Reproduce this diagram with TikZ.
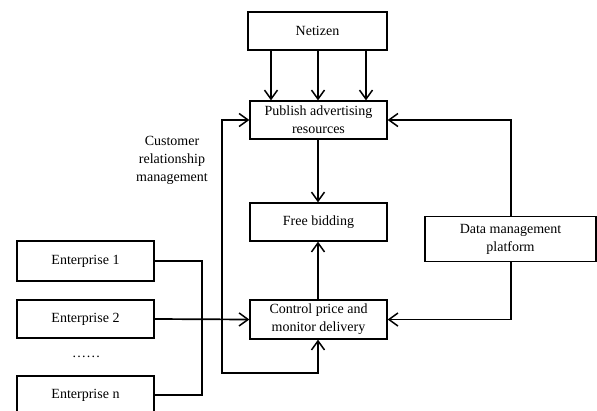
\documentclass[tikz,border=0pt]{standalone}
\usepackage{fontspec}
\setmainfont{Liberation Serif}
\usetikzlibrary{arrows.meta}
\begin{document}
\begin{tikzpicture}[x=1pt,y=-1pt,
  box/.style={draw,line width=1.3pt,minimum width=137pt,minimum height=38pt,inner sep=0pt,align=center,font=\fontsize{14}{18}\selectfont},
  conn/.style={line width=1.7pt,-{Straight Barb[length=9pt,width=13pt,line width=1.5pt]}},
  plain/.style={line width=1.7pt}]
\useasboundingbox (0,0) rectangle (597,410);
\node[box,minimum width=139pt] (net) at (317.5,31) {Netizen};
\node[box] (pub) at (318.5,120) {Publish advertising\\resources};
\node[box] (free) at (318.5,222) {Free bidding};
\node[box,minimum height=39pt] (ctrl) at (318.5,319.5) {Control price and\\monitor delivery};
\node[box,minimum width=171pt,minimum height=45pt] (data) at (510.5,239) {Data management\\platform};
\node[box,minimum height=40pt] (e1) at (85.5,261) {Enterprise 1};
\node[box] (e2) at (85.5,319) {Enterprise 2};
\node[box] (en) at (85.5,395) {Enterprise n};
\node[font=\fontsize{14}{18}\selectfont,inner sep=0pt,anchor=base] (dots) at (86,357) {\kern0.5pt.\kern1.3pt.\kern1.3pt.\kern1.3pt.\kern1.3pt.\kern1.3pt.};
\node[align=center,font=\fontsize{14}{18}\selectfont] (crm) at (172,160) {Customer\\relationship\\management};
\coordinate (m1) at (202,261);
\coordinate (mn) at (202,395);
\coordinate (lb) at (318,373);
\coordinate (lbl) at (222,373);
\coordinate (ltl) at (222,120);
\draw[conn] (net.south -| 271,0) -- (pub.north -| 271,0);
\draw[conn] (net.south -| 318,0) -- (pub.north -| 318,0);
\draw[conn] (net.south -| 366,0) -- (pub.north -| 366,0);
\draw[conn] (pub.south -| 318,0) -- (free.north -| 318,0);
\draw[conn] (ctrl.north -| 318,0) -- (free.south -| 318,0);
\draw[conn] (data.north -| 511,0) |- (pub.east);
\draw[conn] (data.south -| 511,0) |- (ctrl.east);
\draw[plain] (e1.east) -- (m1) -- (mn) -- (en.east);
\draw[conn] (e2.east) -- (ctrl.west);
\draw[line width=1.7pt,{Straight Barb[length=9pt,width=13pt,line width=1.5pt]}-{Straight Barb[length=9pt,width=13pt,line width=1.5pt]}] (ctrl.south -| lb) -- (lb) -- (lbl) -- (ltl) -- (pub.west);
\end{tikzpicture}
\end{document}
